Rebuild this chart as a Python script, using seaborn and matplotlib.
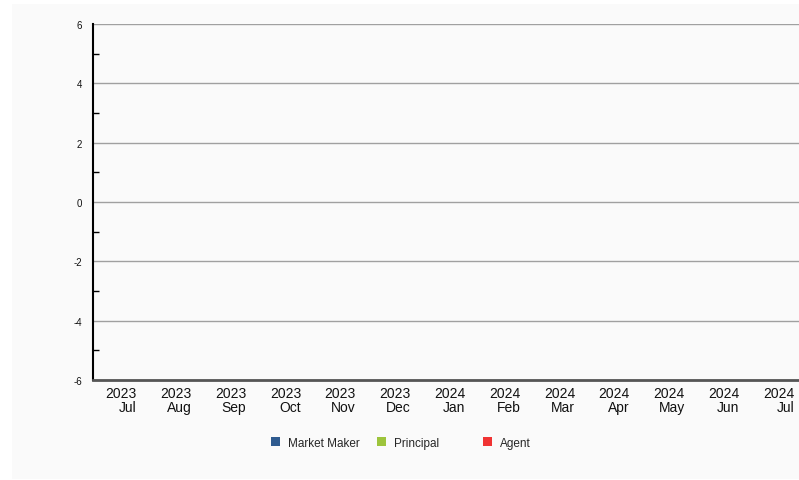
import matplotlib
matplotlib.use("Agg")
import matplotlib.pyplot as plt
import matplotlib.patches as mpatches
import numpy as np
import pandas as pd
import seaborn as sns


MONTHS = ["2023\nJul", "2023\nAug", "2023\nSep", "2023\nOct", "2023\nNov", "2023\nDec",
          "2024\nJan", "2024\nFeb", "2024\nMar", "2024\nApr", "2024\nMay", "2024\nJun", "2024\nJul"]
SERIES = ["Market Maker", "Principal", "Agent"]
COLORS = ["#2f5b8f", "#9dc43c", "#f03333"]
# no values are reported for any month
VALUES = {name: [np.nan] * len(MONTHS) for name in SERIES}
Y_TICKS = [-6, -4, -2, 0, 2, 4, 6]


def main() -> None:
    sns.set_theme(style="white")
    plt.rcParams["font.family"] = ["Liberation Sans", "DejaVu Sans"]

    rows = []
    for name in SERIES:
        for month, value in zip(MONTHS, VALUES[name]):
            rows.append({"month": month, "series": name, "value": value})
    df = pd.DataFrame(rows)

    fig = plt.figure(figsize=(7.99, 4.81), dpi=100)
    fig.patch.set_facecolor("white")
    fig.patches.append(mpatches.Rectangle((12 / 799, 1 - 480 / 481), 787 / 799, 475 / 481,
                                          transform=fig.transFigure, facecolor="#fafafa",
                                          edgecolor="none", zorder=-10))
    ax = fig.add_axes([93 / 799, 1 - 381 / 481, 706 / 799, 356 / 481])
    ax.set_facecolor("none")

    data = df.dropna()
    if len(data):
        sns.barplot(data=data, x="month", y="value", hue="series",
                    palette=dict(zip(SERIES, COLORS)), ax=ax, legend=False)

    ax.set_xlim(-0.51, 12.37)
    ax.set_ylim(-6, 6)
    ax.set_xticks(range(len(MONTHS)))
    ax.set_xticklabels(MONTHS, fontsize=10, color="#111111", multialignment="right",
                       linespacing=1.0)
    ax.set_yticks(Y_TICKS)
    ax.set_yticklabels([str(v) for v in Y_TICKS], fontsize=7, color="#111111")
    ax.set_yticks(range(-5, 6, 2), minor=True)
    ax.tick_params(axis="x", length=0, pad=4)
    ax.tick_params(axis="y", which="major", length=0, pad=8)
    ax.tick_params(axis="y", which="minor", length=4, width=1, direction="in",
                   color="black", left=True)
    ax.set_xlabel("")
    ax.set_ylabel("")

    ax.grid(axis="y", which="major", color="#a0a0a0", linewidth=1)
    ax.set_axisbelow(True)
    for side in ["top", "right"]:
        ax.spines[side].set_visible(False)
    ax.spines["left"].set_color("black")
    ax.spines["left"].set_linewidth(1.5)
    ax.spines["bottom"].set_color("#555555")
    ax.spines["bottom"].set_linewidth(2)

    for i, (name, color) in enumerate(zip(SERIES, COLORS)):
        handle = mpatches.Patch(facecolor=color, edgecolor="none", label=name)
        fig.legend(handles=[handle], loc="center left",
                   bbox_to_anchor=((267 + 106 * i) / 799, 1 - 444 / 481),
                   frameon=False, fontsize=8.5, handlelength=0.8, handleheight=0.8,
                   handletextpad=0.7, borderaxespad=0, borderpad=0.3)

    fig.savefig("out.png", dpi=100)
    plt.close(fig)


if __name__ == "__main__":
    main()
